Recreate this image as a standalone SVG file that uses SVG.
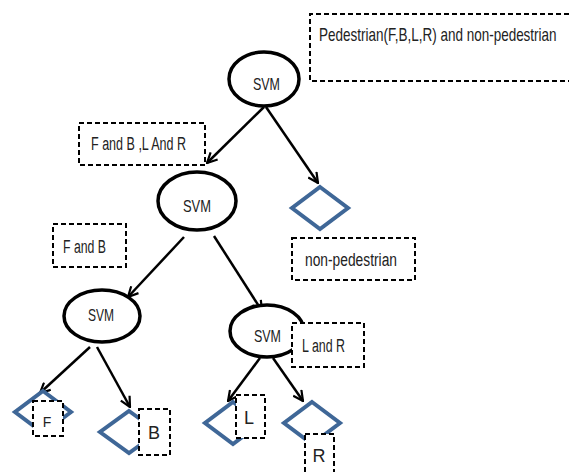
<svg xmlns="http://www.w3.org/2000/svg" width="569" height="472" viewBox="0 0 569 472">
<defs>
<marker id="arr" viewBox="0 0 12 12" refX="11" refY="6" markerWidth="12" markerHeight="12" markerUnits="userSpaceOnUse" orient="auto">
<path d="M1,1 L11,6 L1,11" fill="none" stroke="#000" stroke-width="2.2"/>
</marker>
<style>
.svm{fill:#fff;stroke:#000;stroke-width:3.5}
.dia{fill:#fff;stroke:#3f6797;stroke-width:4;stroke-linejoin:miter}
.box{fill:#fff;stroke:#000;stroke-width:2;stroke-dasharray:5 3}
.edge{stroke:#000;stroke-width:2.5;fill:none;marker-end:url(#arr)}
text{font-family:"Liberation Sans",Arial,sans-serif;font-size:18px;fill:#222}
.s{font-size:17px}
.c{text-anchor:middle}
</style>
</defs>
<rect width="569" height="472" fill="#fff"/>
<g id="connectors">
<line class="edge" x1="264" y1="107" x2="207" y2="163"/>
<line class="edge" x1="266" y1="107" x2="318" y2="183"/>
<line class="edge" x1="184" y1="237" x2="128" y2="297"/>
<line class="edge" x1="214" y1="236" x2="262" y2="311"/>
<line class="edge" x1="90" y1="347" x2="40" y2="393"/>
<line class="edge" x1="97" y1="347" x2="130" y2="407"/>
<line class="edge" x1="260" y1="358" x2="228" y2="401"/>
<line class="edge" x1="273" y1="358" x2="303" y2="401"/>
</g>
<g id="label-top">
<path class="box" d="M569,14 H310 V81 H569" fill="none"/>
<text transform="translate(319,41) scale(0.75,1)" x="0" y="0">Pedestrian(F,B,L,R) and non-pedestrian</text>
</g>
<g id="svm1">
<ellipse class="svm" cx="264" cy="79" rx="35" ry="27"/>
<text class="s" x="253" y="90" textLength="27" lengthAdjust="spacingAndGlyphs">SVM</text>
</g>
<g id="label-fblr">
<rect class="box" x="79" y="123" width="126" height="42"/>
<text x="91" y="150" textLength="95" lengthAdjust="spacingAndGlyphs">F and B ,L And R</text>
</g>
<g id="svm2">
<ellipse class="svm" cx="197" cy="201" rx="39" ry="29"/>
<text class="s" x="183" y="212" textLength="28" lengthAdjust="spacingAndGlyphs">SVM</text>
</g>
<g id="nonped">
<polygon class="dia" points="320,187 348,208 320,229 292,208"/>
</g>
<g id="label-nonped">
<rect class="box" x="292" y="238" width="123" height="42"/>
<text x="305" y="266" textLength="92" lengthAdjust="spacingAndGlyphs">non-pedestrian</text>
</g>
<g id="label-fb">
<rect class="box" x="53" y="224" width="73" height="43"/>
<text x="63" y="253" textLength="43" lengthAdjust="spacingAndGlyphs">F and B</text>
</g>
<g id="svm3">
<ellipse class="svm" cx="102" cy="316" rx="38" ry="26"/>
<text class="s" x="88" y="321" textLength="26" lengthAdjust="spacingAndGlyphs">SVM</text>
</g>
<g id="svm4">
<ellipse class="svm" cx="267" cy="331" rx="37" ry="26"/>
<text class="s" x="254" y="342" textLength="27" lengthAdjust="spacingAndGlyphs">SVM</text>
</g>
<g id="label-lr">
<rect class="box" x="292" y="323" width="72" height="44"/>
<text x="302" y="352" textLength="43" lengthAdjust="spacingAndGlyphs">L and R</text>
</g>
<g id="leaf-f">
<polygon class="dia" points="43,391 71,412 43,433 15,412"/>
<rect class="box" x="33" y="401" width="30" height="35"/>
<text class="c" x="47" y="427" style="font-size:14px">F</text>
</g>
<g id="leaf-b">
<polygon class="dia" points="129,411 158,432 129,453 100,432"/>
<rect class="box" x="139" y="409" width="31" height="46"/>
<text class="c" x="154" y="439">B</text>
</g>
<g id="leaf-l">
<polygon class="dia" points="233,402 261,423 233,444 205,423"/>
<rect class="box" x="236" y="395" width="29" height="43"/>
<text class="c" x="249" y="424">L</text>
</g>
<g id="leaf-r">
<polygon class="dia" points="312,402 340,423 312,444 284,423"/>
<rect class="box" x="305" y="434" width="29" height="46"/>
<text class="c" x="319" y="462">R</text>
</g>
</svg>
